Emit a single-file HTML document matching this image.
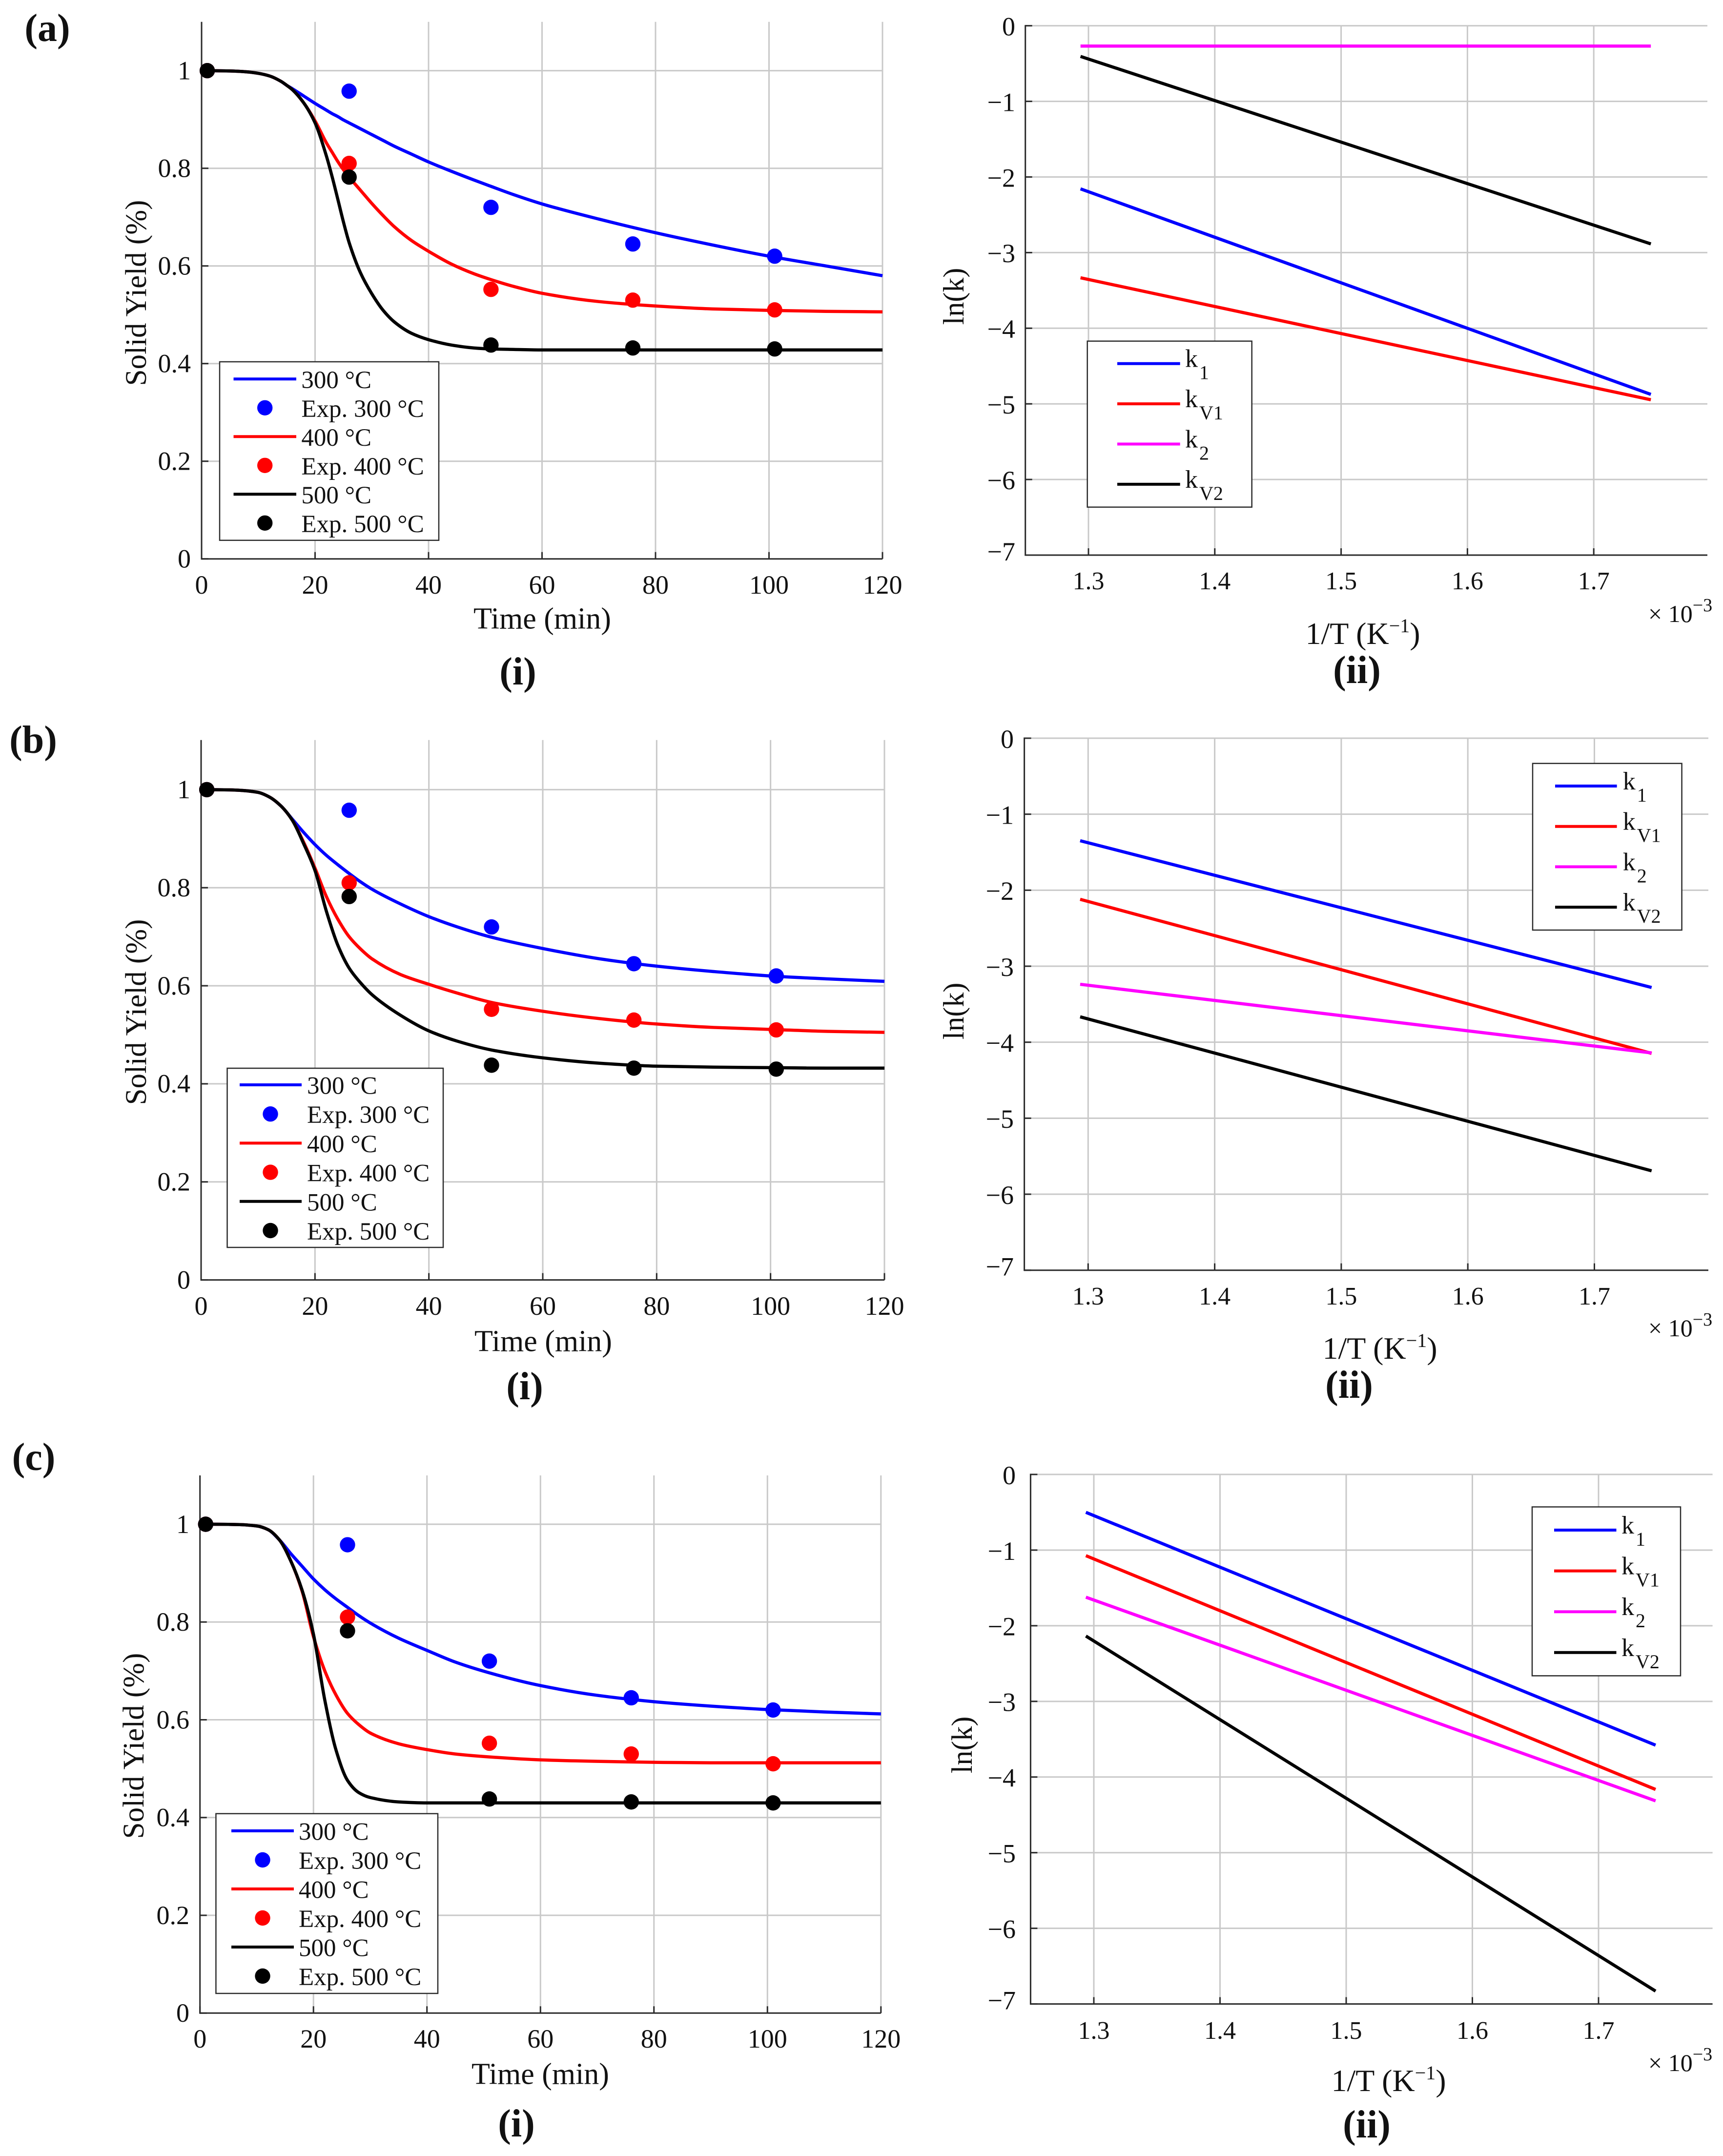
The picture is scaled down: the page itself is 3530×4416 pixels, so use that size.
<!DOCTYPE html>
<html lang="en">
<head>
<meta charset="utf-8">
<title>Solid yield and Arrhenius plots</title>
<style>
html,body{margin:0;padding:0;background:#fff;width:3530px;height:4416px;overflow:hidden}
svg{display:block}
text{font-family:"Liberation Serif","Times New Roman",serif;fill:#111}
</style>
</head>
<body>
<svg id="figure" xmlns="http://www.w3.org/2000/svg" width="3530" height="4416" viewBox="0 0 3530 4416"></svg>
<script>
// ---------- tick labels ----------
const timeTicks = [0, 20, 40, 60, 80, 100, 120];
const yieldTicks = [0, 0.2, 0.4, 0.6, 0.8, 1];
const invTempTicks = [1.3, 1.4, 1.5, 1.6, 1.7];
const lnkTicks = [0, -1, -2, -3, -4, -5, -6, -7];

// ---------- experimental points (shared sampling times) ----------
const expTimes = [1, 26, 51, 76, 101];
const exp300 = [1, 0.958, 0.72, 0.645, 0.62];
const exp400 = [1, 0.81, 0.552, 0.53, 0.51];
const exp500 = [1, 0.782, 0.438, 0.432, 0.43];

// ---------- panel (a)(i) model curves ----------
const aTimes = [1, 5, 8, 10, 12, 14, 15, 16, 18, 20, 22, 23, 24, 25, 26, 28, 30, 32, 34, 37, 40, 44, 48, 51, 55, 60, 70, 80, 90, 100, 110, 120];
const a300 = [1, 0.9993, 0.9975, 0.9945, 0.989, 0.978, 0.97, 0.963, 0.948, 0.933, 0.919, 0.912, 0.906, 0.899, 0.893, 0.881, 0.869, 0.857, 0.845, 0.829, 0.813, 0.794, 0.776, 0.763, 0.746, 0.727, 0.696, 0.668, 0.643, 0.62, 0.6, 0.58];
const a400 = [1, 0.9993, 0.9975, 0.9945, 0.989, 0.978, 0.97, 0.961, 0.934, 0.897, 0.852, 0.833, 0.814, 0.797, 0.782, 0.755, 0.728, 0.703, 0.68, 0.652, 0.63, 0.604, 0.584, 0.572, 0.558, 0.544, 0.527, 0.518, 0.512, 0.509, 0.507, 0.506];
const a500 = [1, 0.9993, 0.9975, 0.9945, 0.989, 0.978, 0.97, 0.961, 0.934, 0.893, 0.825, 0.783, 0.737, 0.69, 0.648, 0.586, 0.543, 0.509, 0.485, 0.462, 0.449, 0.438, 0.432, 0.43, 0.429, 0.428, 0.428, 0.428, 0.428, 0.428, 0.428, 0.428];

// ---------- panel (b)(i) model curves ----------
const bTimes = [1, 5, 7, 10, 12, 14, 16, 18, 20, 22, 24, 26, 28, 30, 35, 40, 45, 51, 60, 70, 80, 90, 100, 110, 120];
const b300 = [1, 0.9995, 0.9985, 0.9945, 0.985, 0.967, 0.94, 0.913, 0.888, 0.866, 0.847, 0.829, 0.812, 0.797, 0.767, 0.741, 0.72, 0.699, 0.676, 0.655, 0.64, 0.629, 0.62, 0.614, 0.609];
const b400 = [1, 0.9995, 0.9985, 0.9945, 0.985, 0.967, 0.938, 0.893, 0.84, 0.782, 0.736, 0.7, 0.675, 0.655, 0.623, 0.603, 0.585, 0.566, 0.548, 0.533, 0.522, 0.515, 0.511, 0.507, 0.505];
const b500 = [1, 0.9995, 0.9985, 0.9945, 0.985, 0.967, 0.938, 0.89, 0.835, 0.752, 0.683, 0.636, 0.606, 0.582, 0.54, 0.508, 0.487, 0.469, 0.453, 0.442, 0.436, 0.434, 0.433, 0.432, 0.432];

// ---------- panel (c)(i) model curves ----------
const cTimes = [1, 5, 7, 10, 12, 14, 16, 18, 20, 22, 24, 26, 28, 30, 35, 40, 45, 51, 60, 70, 80, 90, 100, 110, 120];
const c300 = [1, 0.9998, 0.9992, 0.9965, 0.989, 0.968, 0.94, 0.914, 0.888, 0.866, 0.847, 0.83, 0.813, 0.798, 0.767, 0.742, 0.718, 0.696, 0.67, 0.65, 0.637, 0.628, 0.621, 0.616, 0.612];
const c400 = [1, 0.9998, 0.9992, 0.9965, 0.989, 0.968, 0.925, 0.863, 0.77, 0.7, 0.65, 0.613, 0.59, 0.573, 0.551, 0.539, 0.53, 0.524, 0.518, 0.515, 0.513, 0.512, 0.512, 0.512, 0.512];
const c500 = [1, 0.9998, 0.9992, 0.9965, 0.989, 0.968, 0.925, 0.865, 0.775, 0.64, 0.537, 0.476, 0.451, 0.441, 0.432, 0.43, 0.43, 0.43, 0.43, 0.43, 0.43, 0.43, 0.43, 0.43, 0.43];

// ---------- Arrhenius lines: 1/T (x 10^-3) at 500 C and 300 C, ln(k) at each end ----------
const invTempEnds = [1.2937, 1.7452];
const aK1 = [-2.157, -4.875];
const aKV1 = [-3.333, -4.946];
const aK2 = [-0.269, -0.269];
const aKV2 = [-0.406, -2.885];
const bK1 = [-1.349, -3.28];
const bKV1 = [-2.12, -4.147];
const bK2 = [-3.238, -4.141];
const bKV2 = [-3.666, -5.692];
const cK1 = [-0.501, -3.579];
const cKV1 = [-1.074, -4.164];
const cK2 = [-1.623, -4.315];
const cKV2 = [-2.136, -6.83];

// ---------- legend text ----------
const yieldLegendLabels = ['300 °C', 'Exp. 300 °C', '400 °C', 'Exp. 400 °C', '500 °C', 'Exp. 500 °C'];
const rateLegendSubs = ['1', 'V1', '2', 'V2'];

const COL = {blue: '#0000ff', red: '#ff0000', black: '#000000', magenta: '#ff00ff'};
const GRID = '#c9c9c9', AXIS = '#2b2b2b', NS = 'http://www.w3.org/2000/svg';
const root = document.getElementById('figure');

function make(parent, tag, attrs, content) {
  const el = document.createElementNS(NS, tag);
  for (const k in attrs) el.setAttribute(k, attrs[k]);
  if (content !== undefined) el.textContent = content;
  parent.appendChild(el);
  return el;
}
function line(parent, x1, y1, x2, y2, stroke, w) {
  return make(parent, 'line', {x1: x1, y1: y1, x2: x2, y2: y2, stroke: stroke, 'stroke-width': w});
}
function label(parent, s, x, cy, size, anchor, extra) {
  const a = Object.assign({x: x, y: cy + size * 0.33, 'font-size': size, 'text-anchor': anchor}, extra || {});
  return make(parent, 'text', a, s);
}
// monotone cubic path through scaled points
function smoothPath(xs, ys) {
  const n = xs.length, d = [], m = new Array(n);
  for (let i = 0; i < n - 1; i++) d.push((ys[i + 1] - ys[i]) / (xs[i + 1] - xs[i]));
  m[0] = d[0]; m[n - 1] = d[n - 2];
  for (let i = 1; i < n - 1; i++) {
    if (d[i - 1] * d[i] <= 0) { m[i] = 0; continue; }
    const h0 = xs[i] - xs[i - 1], h1 = xs[i + 1] - xs[i];
    m[i] = 3 * (h0 + h1) / ((2 * h1 + h0) / d[i - 1] + (h1 + 2 * h0) / d[i]);
  }
  let p = 'M' + xs[0].toFixed(2) + ' ' + ys[0].toFixed(2);
  for (let i = 0; i < n - 1; i++) {
    const h = (xs[i + 1] - xs[i]) / 3;
    p += 'C' + (xs[i] + h).toFixed(2) + ' ' + (ys[i] + m[i] * h).toFixed(2) + ' ' +
      (xs[i + 1] - h).toFixed(2) + ' ' + (ys[i + 1] - m[i + 1] * h).toFixed(2) + ' ' +
      xs[i + 1].toFixed(2) + ' ' + ys[i + 1].toFixed(2);
  }
  return p;
}

function drawYieldPanel(L, times, s300, s400, s500) {
  const g = make(root, 'g', {});
  
  
  const X = t => L.x0 + (L.x1 - L.x0) * t / 120;
  const Y = v => L.y0 + (L.y1 - L.y0) * v;
  const gridG = make(g, 'g', {});
  
  
  timeTicks.forEach(t => { if (t > 0) line(gridG, X(t), L.y0, X(t), L.top, GRID, 3); });
  yieldTicks.forEach(v => { if (v > 0) line(gridG, L.x0, Y(v), L.x1, Y(v), GRID, 3); });
  const axG = make(g, 'g', {});
  
  
  line(axG, L.x0, L.top, L.x0, L.y0 + 1.5, AXIS, 3);
  line(axG, L.x0, L.y0, L.x1, L.y0, AXIS, 3);
  timeTicks.forEach(t => {
    line(axG, X(t), L.y0, X(t), L.y0 - 14, AXIS, 3);
    const el = label(axG, String(t), X(t), L.xTickY, 54, 'middle');
    
    
  });
  yieldTicks.forEach(v => {
    line(axG, L.x0, Y(v), L.x0 + 14, Y(v), AXIS, 3);
    const el = label(axG, String(v), L.yTickX, Y(v), 54, 'end');
    
    
  });
  const yt = label(g, 'Solid Yield (%)', 0, 0, 61, 'middle', {transform: 'translate(' + L.ylabX + ' ' + L.ylabY + ') rotate(-90)', y: 20});
  
  
  const xt = label(g, 'Time (min)', L.xlabX, L.xlabY, 62, 'middle');
  
  

  const order = [[s300, exp300, COL.blue], [s400, exp400, COL.red], [s500, exp500, COL.black]];
  order.forEach(o => {
    const c = make(g, 'path', {d: smoothPath(times.map(X), o[0].map(Y)), fill: 'none', stroke: o[2], 'stroke-width': 6.5, 'stroke-linejoin': 'round'});
    
    
    expTimes.forEach((t, i) => {
      const p = make(g, 'circle', {cx: X(t), cy: Y(o[1][i]), r: 15.7, fill: o[2]});
      
      
    });
  });

  // legend
  const leg = make(g, 'g', {});
  
  
  make(leg, 'rect', {x: L.lx0, y: L.ly0, width: L.lx1 - L.lx0, height: L.ly1 - L.ly0, fill: '#fff', stroke: AXIS, 'stroke-width': 2.5});
  const cols = [COL.blue, COL.blue, COL.red, COL.red, COL.black, COL.black];
  yieldLegendLabels.forEach((s, i) => {
    const ry = L.lrow + i * L.lstep;
    if (i % 2 === 0) {
      line(leg, L.lineX0, ry, L.lineX1, ry, cols[i], 6);
    } else {
      make(leg, 'circle', {cx: L.dotX, cy: ry, r: 15.7, fill: cols[i]});
    }
    const el = make(leg, 'text', {x: L.textX, y: ry + 18.5, 'font-size': 51}, s);
    
    
  });
  const pl = make(g, 'text', {x: L.capX, y: L.capY + 26, 'font-size': 80, 'font-weight': 'bold', 'text-anchor': 'middle'}, '(i)');
  
  
  const hd = make(g, 'text', {x: L.headX, y: L.headY + 26, 'font-size': 80, 'font-weight': 'bold', 'text-anchor': 'middle'}, L.head);
  
  
}

function drawRatePanel(L, k1, kv1, k2, kv2) {
  const g = make(root, 'g', {});
  
  
  const X = v => L.x13 + (v - 1.3) * L.perTenth * 10;
  const Y = v => L.y0 - v * (L.y7 - L.y0) / 7;
  const gridG = make(g, 'g', {});
  
  
  invTempTicks.forEach(v => line(gridG, X(v), L.y7, X(v), L.y0, GRID, 3));
  lnkTicks.forEach(v => { if (v > -7) line(gridG, L.xl, Y(v), L.xr, Y(v), GRID, 3); });
  const axG = make(g, 'g', {});
  
  
  line(axG, L.xl, L.y0 - 1.5, L.xl, L.y7 + 1.5, AXIS, 3);
  line(axG, L.xl, L.y7, L.xr, L.y7, AXIS, 3);
  invTempTicks.forEach(v => {
    line(axG, X(v), L.y7, X(v), L.y7 - 14, AXIS, 3);
    const el = label(axG, v.toFixed(1), X(v), L.xTickY, 52, 'middle');
    
    
  });
  lnkTicks.forEach(v => {
    line(axG, L.xl, Y(v), L.xl + 14, Y(v), AXIS, 3);
    const el = label(axG, v === 0 ? '0' : '\u2212' + Math.abs(v), L.yTickX, Y(v) + (v === -7 ? -7 : 2), 54, 'end');
    
    
  });
  const yt = label(g, 'ln(k)', 0, 0, 60, 'middle', {transform: 'translate(' + L.ylabX + ' ' + L.ylabY + ') rotate(-90)', y: 20});
  
  

  const xt = make(g, 'text', {x: L.xlabX, y: L.xlabY + 20, 'font-size': 64, 'text-anchor': 'middle'});
  
  
  make(xt, 'tspan', {}, '1/T (K');
  make(xt, 'tspan', {'font-size': 40, dy: -24}, '\u22121');
  make(xt, 'tspan', {dy: 24}, ')');

  const mult = make(g, 'text', {x: 3377, y: L.multY + 16, 'font-size': 50});
  
  
  make(mult, 'tspan', {}, '\u00d7 10');
  make(mult, 'tspan', {'font-size': 38, dy: -22}, '\u22123');

  const series = [[k1, COL.blue], [kv1, COL.red], [k2, COL.magenta], [kv2, COL.black]];
  series.forEach(s => {
    const c = make(g, 'line', {x1: X(invTempEnds[0]), y1: Y(s[0][0]), x2: X(invTempEnds[1]), y2: Y(s[0][1]), stroke: s[1], 'stroke-width': 6.5});
    
    
  });

  const leg = make(g, 'g', {});
  
  
  make(leg, 'rect', {x: L.lx0, y: L.ly0, width: L.lx1 - L.lx0, height: L.ly1 - L.ly0, fill: '#fff', stroke: AXIS, 'stroke-width': 2.5});
  rateLegendSubs.forEach((sub, i) => {
    const ry = L.lrow + i * L.lstep;
    line(leg, L.lineX0, ry, L.lineX1, ry, series[i][1], 6);
    const el = make(leg, 'text', {x: L.textX, y: ry + 7, 'font-size': 52});
    
    
    make(el, 'tspan', {}, 'k');
    make(el, 'tspan', {'font-size': 40, dy: 25, dx: 3}, sub);
  });
  const pl = make(g, 'text', {x: L.capX, y: L.capY + 26, 'font-size': 80, 'font-weight': 'bold', 'text-anchor': 'middle'}, '(ii)');
  
  
}

drawYieldPanel({name: 'panel-a-yield-chart', head: '(a)', headX: 97, headY: 58, x0: 413, x1: 1808, y0: 1144.7, y1: 144.7, top: 44.7,
  xTickY: 1198, yTickX: 391, ylabX: 279, ylabY: 600, xlabX: 1111, xlabY: 1267, capX: 1061, capY: 1376,
  lx0: 450, lx1: 899, ly0: 741, ly1: 1106.7, lrow: 776.3, lstep: 59, lineX0: 478.5, lineX1: 607, dotX: 542.7, textX: 617.4}, aTimes, a300, a400, a500);

drawRatePanel({name: 'panel-a-arrhenius-chart', xl: 2100.7, xr: 3498, x13: 2230, perTenth: 258.8, y0: 52.7, y7: 1137,
  xTickY: 1190, yTickX: 2080, ylabX: 1954, ylabY: 607, xlabX: 2792, xlabY: 1299, multY: 1258, capX: 2780, capY: 1373,
  lx0: 2227.7, lx1: 2564.7, ly0: 698.7, ly1: 1038.7, lrow: 744.7, lstep: 82.4, lineX0: 2289, lineX1: 2417.7, textX: 2428}, aK1, aKV1, aK2, aKV2);

drawYieldPanel({name: 'panel-b-yield-chart', head: '(b)', headX: 68, headY: 1516, x0: 412, x1: 1812, y0: 2621.6, y1: 1617.4, top: 1515.7,
  xTickY: 2675, yTickX: 390, ylabX: 279, ylabY: 2073, xlabX: 1113, xlabY: 2747, capX: 1075, capY: 2840,
  lx0: 465.5, lx1: 908, ly0: 2188, ly1: 2555, lrow: 2222, lstep: 59.7, lineX0: 491, lineX1: 618, dotX: 554, textX: 629}, bTimes, b300, b400, b500);

drawRatePanel({name: 'panel-b-arrhenius-chart', xl: 2098.6, xr: 3500, x13: 2229.3, perTenth: 259.3, y0: 1512, y7: 2601.7,
  xTickY: 2655, yTickX: 2077, ylabX: 1954, ylabY: 2071, xlabX: 2827, xlabY: 2763, multY: 2721, capX: 2764, capY: 2837,
  lx0: 3140, lx1: 3445.6, ly0: 1563.7, ly1: 1905, lrow: 1610, lstep: 82.7, lineX0: 3186, lineX1: 3312.6, textX: 3324.7}, bK1, bKV1, bK2, bKV2);

drawYieldPanel({name: 'panel-c-yield-chart', head: '(c)', headX: 69, headY: 2985, x0: 409.7, x1: 1804.8, y0: 4123.3, y1: 3122, top: 3022,
  xTickY: 4176, yTickX: 388, ylabX: 274, ylabY: 3576, xlabX: 1107, xlabY: 4248, capX: 1058, capY: 4350,
  lx0: 442.4, lx1: 897, ly0: 3714.8, ly1: 4083, lrow: 3750, lstep: 59.5, lineX0: 474, lineX1: 602, dotX: 538, textX: 612}, cTimes, c300, c400, c500);

drawRatePanel({name: 'panel-c-arrhenius-chart', xl: 2111.4, xr: 3508.6, x13: 2241, perTenth: 258.5, y0: 3020, y7: 4104.6,
  xTickY: 4159, yTickX: 2081, ylabX: 1971, ylabY: 3574, xlabX: 2845, xlabY: 4263, multY: 4226, capX: 2800, capY: 4352,
  lx0: 3139, lx1: 3443, ly0: 3086.5, ly1: 3432.4, lrow: 3134, lstep: 83.6, lineX0: 3184, lineX1: 3311.5, textX: 3322}, cK1, cKV1, cK2, cKV2);
</script>
</body>
</html>
